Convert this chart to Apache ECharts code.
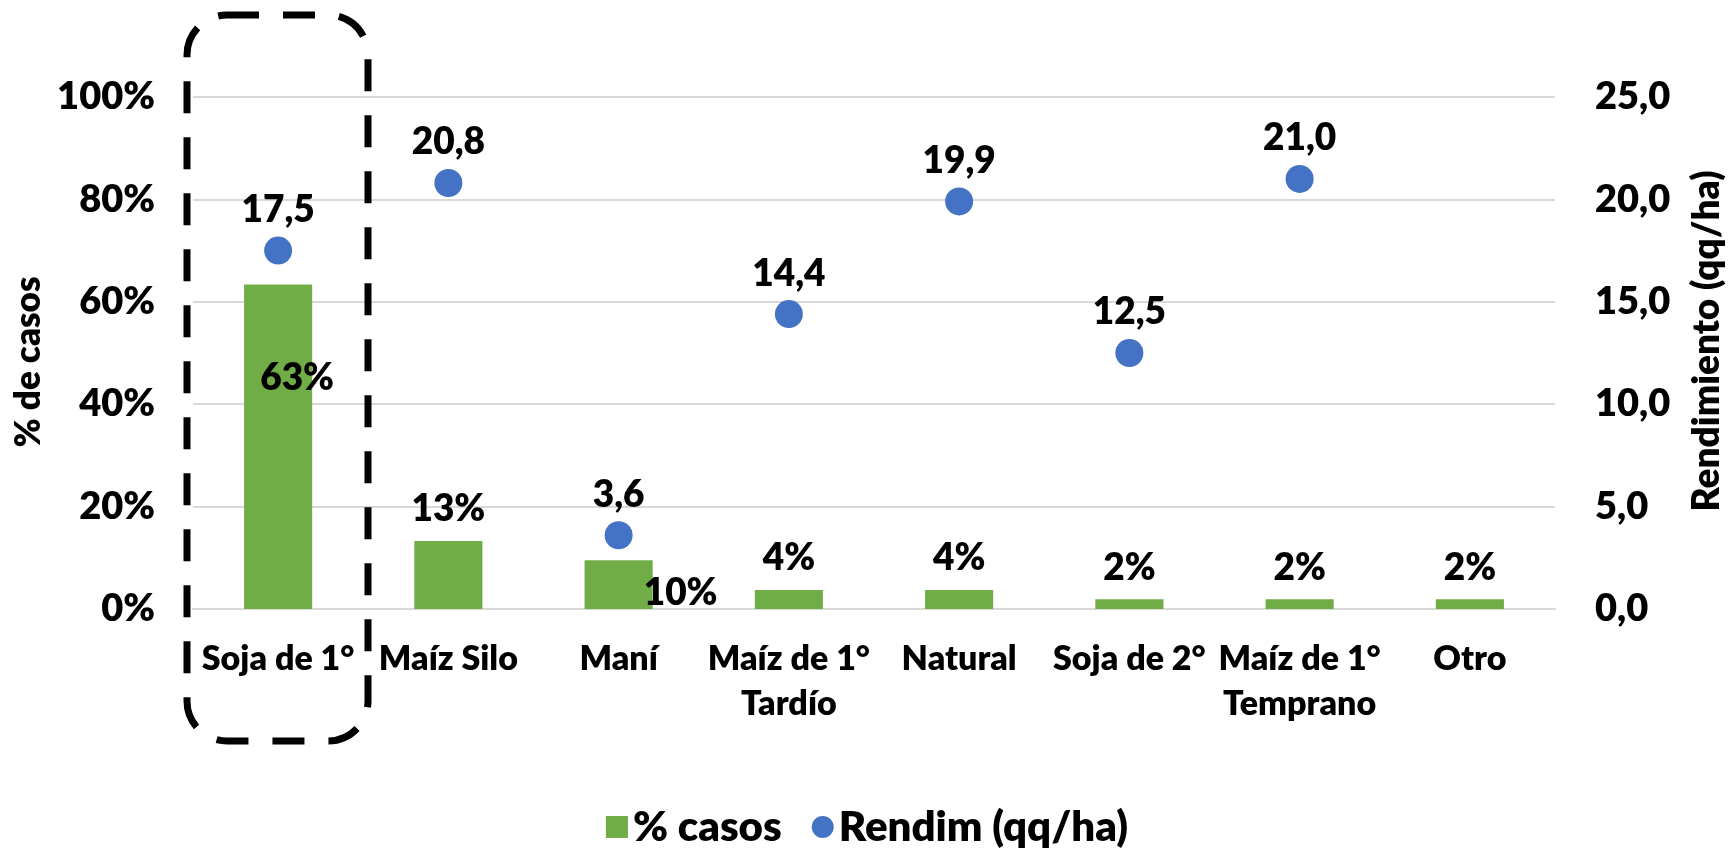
<!DOCTYPE html>
<html>
<head>
    <meta charset="utf-8">
    <title>ECharts</title>
    <script src="https://cdn.jsdelivr.net/npm/echarts@6/dist/echarts.min.js"></script>
</head>
<body style="margin:0">
    <div id="main" style="width: 1734px;height:849px;"></div>
    <script type="text/javascript">
    // datos
    var categorias = ['Soja de 1°', 'Maíz Silo', 'Maní', 'Maíz de 1°\nTardío', 'Natural', 'Soja de 2°', 'Maíz de 1°\nTemprano', 'Otro'];
    var casos = [63.4, 13.3, 9.5, 3.7, 3.7, 1.9, 1.9, 1.9];
    var rendim = [17.5, 20.8, 3.6, 14.4, 19.9, 12.5, 21.0, null];
    var ticksCasos = [0, 20, 40, 60, 80, 100];
    var ticksRendim = [0, 5, 10, 15, 20, 25];

    var fuente = 'Lato';
    var peso = 800;
    var verde = '#70AD47';
    var azul = '#4472C4';

    var myChart = echarts.init(document.getElementById('main'));

    // etiquetas de barras movidas a mano (como en el original)
    var barData = casos.map(function (v, i) {
        var d = { value: v };
        if (i === 0) {
            d.label = { position: 'inside', offset: [19, -69] };
        } else if (i === 2) {
            d.label = { position: 'inside', offset: [62, 8] };
        }
        return d;
    });

    var option = {
        textStyle: { fontFamily: fuente },
        grid: { left: 193, right: 176, top: 97, bottom: 240 },
        legend: {
            top: 801,
            left: 'center',
            itemWidth: 22,
            itemHeight: 22,
            itemGap: 30,
            textStyle: { fontSize: 42, fontWeight: peso, color: '#000', fontFamily: fuente },
            data: [
                { name: '% casos', icon: 'rect' },
                { name: 'Rendim (qq/ha)', icon: 'circle' }
            ]
        },
        xAxis: {
            type: 'category',
            data: categorias,
            axisTick: { show: false },
            axisLine: { lineStyle: { color: '#d9d9d9', width: 2 } },
            axisLabel: {
                interval: 0,
                margin: 28,
                color: '#000',
                fontSize: 34,
                fontWeight: peso,
                lineHeight: 45,
                fontFamily: fuente
            }
        },
        yAxis: [{
            type: 'value',
            min: ticksCasos[0],
            max: ticksCasos[ticksCasos.length - 1],
            interval: ticksCasos[1] - ticksCasos[0],
            name: '% de casos',
            nameLocation: 'middle',
            nameGap: 141,
            nameTextStyle: { fontSize: 35, fontWeight: peso, color: '#000', fontFamily: fuente, padding: [0, 18, 0, 0] },
            axisLabel: {
                margin: 38,
                color: '#000',
                fontSize: 38,
                fontWeight: peso,
                formatter: function (v) { return v + '%'; }
            },
            splitLine: { lineStyle: { color: '#d9d9d9', width: 2 } }
        }, {
            type: 'value',
            position: 'right',
            min: ticksRendim[0],
            max: ticksRendim[ticksRendim.length - 1],
            interval: ticksRendim[1] - ticksRendim[0],
            name: 'Rendimiento (qq/ha)',
            nameLocation: 'middle',
            nameGap: 134,
            nameTextStyle: { fontSize: 37, fontWeight: peso, color: '#000', fontFamily: fuente, padding: [0, 0, 0, 24] },
            axisLabel: {
                margin: 40,
                color: '#000',
                fontSize: 38,
                fontWeight: peso,
                formatter: function (v) { return v.toFixed(1).replace('.', ','); }
            },
            splitLine: { show: false }
        }],
        series: [{
            name: '% casos',
            type: 'bar',
            yAxisIndex: 0,
            barWidth: '40%',
            itemStyle: { color: verde },
            label: {
                show: true,
                position: 'top',
                distance: 13,
                color: '#000',
                fontSize: 37,
                fontWeight: peso,
                fontFamily: fuente,
                formatter: function (p) { return Math.round(p.value) + '%'; }
            },
            data: barData
        }, {
            name: 'Rendim (qq/ha)',
            type: 'scatter',
            yAxisIndex: 1,
            symbolSize: 28,
            itemStyle: { color: azul, opacity: 1 },
            label: {
                show: true,
                position: 'top',
                distance: 8,
                color: '#000',
                fontSize: 37,
                fontWeight: peso,
                fontFamily: fuente,
                formatter: function (p) { return p.value.toFixed(1).replace('.', ','); }
            },
            data: rendim
        }],
        // recuadro punteado sobre "Soja de 1°"
        graphic: [{
            type: 'rect',
            shape: { x: 187, y: 15, width: 181, height: 726, r: 40 },
            style: { fill: null, stroke: '#000', lineWidth: 7, lineDash: [32, 24] },
            z: 100
        }]
    };

    myChart.setOption(option);
    </script>
</body>
</html>
